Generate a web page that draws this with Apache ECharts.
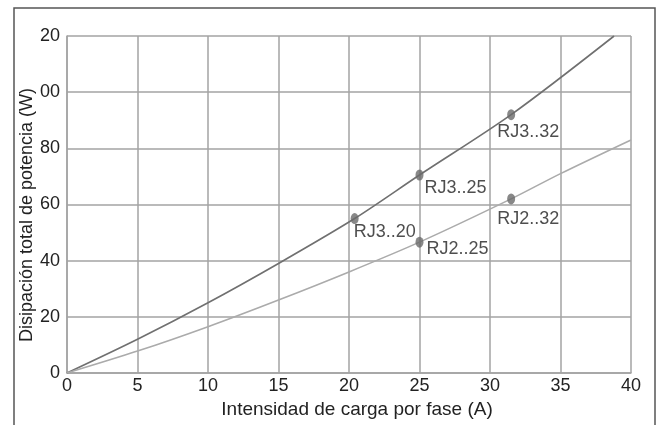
<!DOCTYPE html>
<html>
<head>
<meta charset="utf-8">
<script src="https://cdn.jsdelivr.net/npm/echarts@6/dist/echarts.min.js"></script>
<style>
  html, body { margin: 0; padding: 0; background: #fff; }
  #chart { width: 662px; height: 425px; }
</style>
</head>
<body>
<div id="chart"></div>
<script>
// Power dissipation curves, RJ3 and RJ2 relay families
const rj3Curve = [[0, 0], [5, 12], [10, 25], [15, 39], [20.4, 55], [25, 70.5], [31.5, 92], [38.8, 120]];
const rj2Curve = [[0, 0], [5, 7.8], [10, 16.5], [15, 26], [20, 36], [25, 46.6], [31.5, 62], [35, 71], [40, 83]];

// Rated points marked on the curves
const ratedNames = ['RJ3..20', 'RJ3..25', 'RJ3..32', 'RJ2..25', 'RJ2..32'];
const ratedX = [20.4, 25, 31.5, 25, 31.5];
const ratedY = [55, 70.5, 92, 46.6, 62];

// Axis tick labels as printed
const xTickLabels = ['0', '5', '10', '15', '20', '25', '30', '35', '40'];
const yTickValues = [0, 20, 40, 60, 80, 100, 120];
const yTickLabels = ['0', '20', '40', '60', '80', '00', '20'];

const xAxisTitle = 'Intensidad de carga por fase (A)';
const yAxisTitle = 'Disipación total de potencia (W)';

// Label placement for each rated point (offset from the marker box)
const labelOffsets = [[3, 18.5], [9, 18.5], [-10, 22.5], [11, 12.5], [-10, 25.5]];

const textColor = '#222';
const gridColor = '#a3a3a3';
const font = 'Liberation Sans, Arial, sans-serif';

const chart = echarts.init(document.getElementById('chart'), null, { renderer: 'canvas' });

chart.setOption({
  animation: false,
  backgroundColor: '#fff',
  grid: { left: 67, right: 31, top: 36, bottom: 52, containLabel: false },
  xAxis: {
    type: 'value', min: 0, max: 40, interval: 5,
    name: xAxisTitle,
    nameLocation: 'middle', nameGap: 27,
    nameTextStyle: { color: textColor, fontSize: 19, fontFamily: font, padding: [0, 0, 0, 16] },
    axisLine: { show: true, lineStyle: { color: gridColor, width: 1.5 } },
    axisTick: { show: false },
    axisLabel: {
      color: textColor, fontSize: 18, fontFamily: font, margin: 4,
      formatter: v => xTickLabels[Math.round(v / 5)]
    },
    splitLine: { show: true, lineStyle: { color: gridColor, width: 1.5 } }
  },
  yAxis: {
    type: 'value', min: 0, max: 120, interval: 20,
    axisLine: { show: true, lineStyle: { color: gridColor, width: 1.5 } },
    axisTick: { show: false },
    axisLabel: {
      color: textColor, fontSize: 18, fontFamily: font, margin: 7,
      formatter: v => yTickLabels[yTickValues.indexOf(v)]
    },
    splitLine: { show: true, lineStyle: { color: gridColor, width: 1.5 } }
  },
  series: [
    {
      type: 'line', data: rj3Curve, smooth: 0.3, showSymbol: false,
      lineStyle: { color: '#707070', width: 1.6 }, z: 3
    },
    {
      type: 'line', data: rj2Curve, smooth: 0.3, showSymbol: false,
      lineStyle: { color: '#ababab', width: 1.6 }, z: 3
    },
    {
      type: 'scatter',
      symbol: 'circle', symbolSize: [8, 11],
      itemStyle: { color: '#6a6a6a' },
      z: 4,
      data: ratedNames.map((n, i) => ({
        name: n,
        value: [ratedX[i], ratedY[i]],
        label: {
          show: true,
          formatter: n,
          position: labelOffsets[i],
          align: 'left', verticalAlign: 'middle',
          color: textColor, fontSize: 18, fontFamily: font
        }
      }))
    }
  ],
  graphic: [
    {
      type: 'rect',
      shape: { x: 14, y: 8, width: 641, height: 440 },
      style: { fill: 'none', stroke: '#555', lineWidth: 1.5 },
      silent: true
    },
    {
      // vertical title of the power axis
      type: 'text',
      x: 27, y: 215,
      rotation: Math.PI / 2,
      style: {
        text: yAxisTitle,
        font: '18px ' + font,
        fill: textColor,
        align: 'center', verticalAlign: 'middle'
      },
      silent: true
    }
  ]
});
</script>
</body>
</html>
